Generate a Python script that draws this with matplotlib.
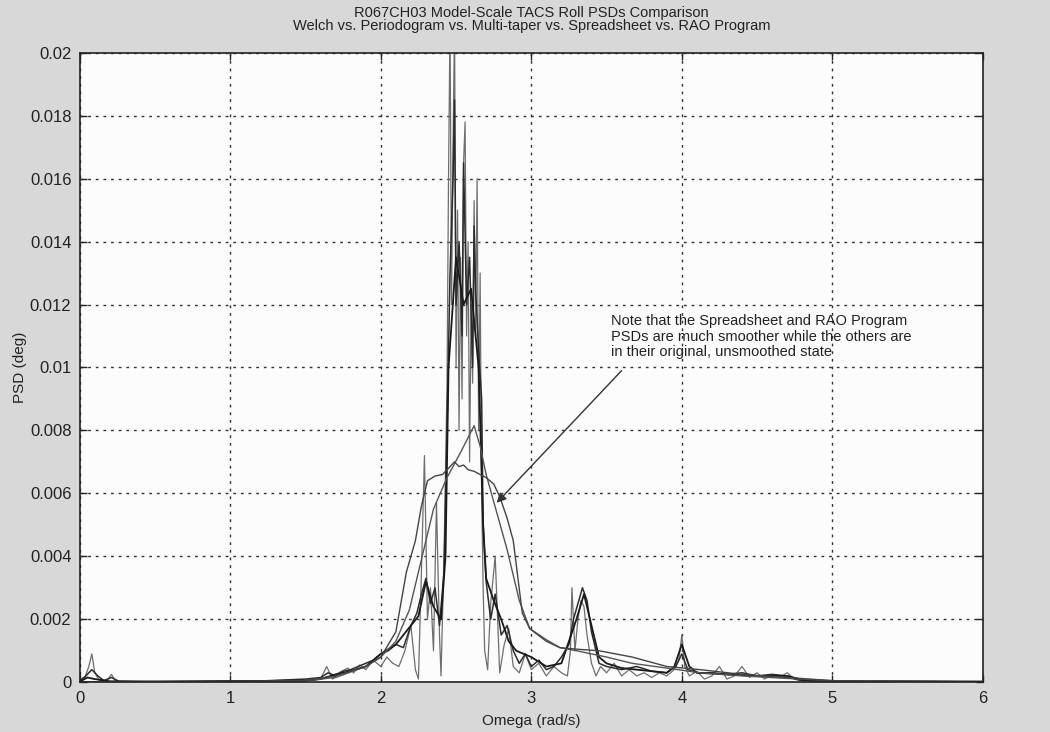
import matplotlib
matplotlib.use('Agg')
import matplotlib.pyplot as plt
import numpy as np
from matplotlib.ticker import FormatStrFormatter, MultipleLocator

plt.rcParams['font.family'] = ['Liberation Sans', 'DejaVu Sans']

# --- PSD estimates, omega in rad/s, PSD in units of 1e-3 deg ---
welch_w = [0, 0.05, 0.1, 0.2, 0.5, 1.0, 1.5, 1.6, 1.7, 1.8,
           1.9, 2.0, 2.1, 2.2, 2.25, 2.3, 2.35, 2.4, 2.43, 2.45,
           2.5, 2.55, 2.6, 2.65, 2.68, 2.7, 2.75, 2.8, 2.85, 2.9,
           3.0, 3.1, 3.2, 3.3, 3.35, 3.4, 3.45, 3.5, 3.6, 3.7,
           3.8, 3.9, 3.95, 4.0, 4.05, 4.1, 4.3, 4.5, 4.7, 4.8,
           5.0, 6.0]
welch_psd = [0.02, 0.15, 0.1, 0.03, 0.02, 0.03, 0.05, 0.1, 0.25, 0.35,
             0.5, 0.9, 1.2, 1.8, 2.1, 3.2, 2.4, 2.0, 4.0, 10.0,
             13.5, 12.0, 12.5, 10.0, 5.0, 3.3, 2.6, 2.0, 1.3, 1.0,
             0.8, 0.5, 0.6, 2.0, 2.8, 1.8, 0.8, 0.6, 0.45, 0.4,
             0.35, 0.3, 0.5, 1.2, 0.5, 0.3, 0.25, 0.2, 0.2, 0.08,
             0.03, 0.02]

perio_w = [0, 0.03, 0.06, 0.08, 0.1, 0.13, 0.18, 0.21, 0.24, 0.3,
           0.6, 0.9, 1.2, 1.5, 1.6, 1.64, 1.68, 1.72, 1.78, 1.82,
           1.86, 1.9, 1.95, 2.0, 2.04, 2.08, 2.12, 2.16, 2.2, 2.23,
           2.25, 2.27, 2.29, 2.31, 2.33, 2.35, 2.37, 2.39, 2.40, 2.42,
           2.44, 2.45, 2.46, 2.47, 2.48, 2.49, 2.50, 2.51, 2.52, 2.53,
           2.54, 2.55, 2.56, 2.57, 2.58, 2.59, 2.60, 2.61, 2.62, 2.63,
           2.64, 2.65, 2.66, 2.67, 2.68, 2.69, 2.71, 2.73, 2.76, 2.79,
           2.82, 2.85, 2.88, 2.92, 2.96, 3.0, 3.05, 3.1, 3.15, 3.2,
           3.24, 3.26, 3.27, 3.29, 3.31, 3.33, 3.35, 3.37, 3.4, 3.43,
           3.46, 3.5, 3.55, 3.6, 3.65, 3.7, 3.75, 3.8, 3.85, 3.9,
           3.95, 3.98, 4.0, 4.02, 4.05, 4.1, 4.15, 4.2, 4.25, 4.3,
           4.35, 4.4, 4.45, 4.5, 4.55, 4.6, 4.65, 4.7, 4.75, 4.8,
           4.9, 5.0, 5.5, 6.0]
perio_psd = [0.0, 0.1, 0.5, 0.9, 0.3, 0.05, 0.05, 0.25, 0.02, 0.02,
             0.02, 0.03, 0.05, 0.05, 0.1, 0.5, 0.1, 0.3, 0.45, 0.3,
             0.55, 0.4, 0.7, 0.5, 0.8, 0.6, 0.5, 1.0, 1.8, 0.4,
             0.1, 3.5, 7.2, 2.0, 3.0, 1.0, 5.7, 1.5, 0.2, 4.0,
             9.5, 16.0, 21.0, 12.0, 17.0, 21.0, 10.0, 15.0, 8.0, 13.5,
             9.0, 16.5, 17.8, 11.0, 14.0, 7.0, 12.0, 9.5, 15.3, 11.0,
             16.0, 8.0, 13.0, 6.0, 3.0, 1.0, 0.4, 2.5, 4.0, 0.3,
             1.2, 1.7, 0.5, 0.3, 0.9, 0.4, 0.6, 0.2, 0.5, 0.3,
             0.2, 1.0, 3.0, 1.0, 2.0, 2.6, 2.4, 1.5, 0.6, 0.2,
             0.5, 0.3, 0.6, 0.2, 0.4, 0.2, 0.3, 0.15, 0.3, 0.2,
             0.4, 0.7, 1.5, 0.5, 0.2, 0.35, 0.1, 0.2, 0.5, 0.1,
             0.2, 0.5, 0.15, 0.3, 0.1, 0.25, 0.15, 0.3, 0.1, 0.05,
             0.03, 0.02, 0.01, 0.01]

mtaper_w = [0, 0.04, 0.08, 0.12, 0.16, 0.21, 0.26, 0.4, 0.8, 1.2,
            1.5, 1.6, 1.65, 1.7, 1.75, 1.8, 1.85, 1.9, 1.95, 2.0,
            2.05, 2.1, 2.15, 2.2, 2.24, 2.27, 2.3, 2.33, 2.36, 2.39,
            2.42, 2.44, 2.46, 2.48, 2.49, 2.5, 2.52, 2.54, 2.55, 2.57,
            2.59, 2.61, 2.62, 2.63, 2.65, 2.67, 2.68, 2.7, 2.73, 2.76,
            2.8, 2.84, 2.88, 2.92, 2.96, 3.0, 3.05, 3.1, 3.15, 3.2,
            3.25, 3.28, 3.31, 3.34, 3.37, 3.4, 3.45, 3.5, 3.6, 3.7,
            3.8, 3.9, 3.96, 4.0, 4.04, 4.1, 4.2, 4.3, 4.4, 4.5,
            4.6, 4.7, 4.75, 4.8, 5.0, 6.0]
mtaper_psd = [0.05, 0.2, 0.4, 0.2, 0.05, 0.15, 0.03, 0.02, 0.03, 0.04,
              0.1, 0.15, 0.3, 0.2, 0.35, 0.4, 0.5, 0.6, 0.7, 0.9,
              1.0, 1.2, 1.1, 1.8, 2.2, 2.8, 3.3, 2.5, 3.0, 1.8,
              3.5, 8.0, 13.0, 16.0, 18.5, 12.0, 14.0, 11.0, 16.5, 12.0,
              13.5, 10.0, 14.5, 12.5, 10.5, 9.0, 5.0, 3.2, 2.0, 2.8,
              1.5, 1.8, 1.0, 0.6, 0.9, 0.5, 0.7, 0.4, 0.5, 0.8,
              1.2, 2.0, 2.5, 3.0, 2.6, 1.6, 0.6, 0.5, 0.4, 0.5,
              0.35, 0.3, 0.5, 0.9, 0.4, 0.3, 0.3, 0.25, 0.3, 0.2,
              0.25, 0.2, 0.1, 0.05, 0.03, 0.02]

sheet_w = [0, 0.5, 1.0, 1.5, 1.7, 1.9, 2.0, 2.1, 2.19, 2.25,
           2.35, 2.44, 2.53, 2.62, 2.66, 2.70, 2.77, 2.84, 2.92, 2.99,
           3.1, 3.19, 3.3, 3.5, 3.67, 3.9, 4.12, 4.4, 4.7, 5.0,
           6.0]
sheet_psd = [0.0, 0.01, 0.02, 0.05, 0.15, 0.5, 0.8, 1.3, 2.3, 3.5,
             5.5, 6.5, 7.3, 8.15, 7.5, 6.6, 5.4, 4.2, 2.6, 1.7,
             1.35, 1.1, 1.0, 0.8, 0.6, 0.45, 0.3, 0.2, 0.12, 0.05,
             0.01]

rao_w = [0, 0.5, 1.0, 1.5, 1.7, 1.9, 2.0, 2.1, 2.17, 2.23,
         2.27, 2.31, 2.36, 2.41, 2.44, 2.47, 2.49, 2.52, 2.55, 2.58,
         2.62, 2.66, 2.70, 2.75, 2.79, 2.84, 2.88, 2.94, 2.99, 3.1,
         3.19, 3.3, 3.45, 3.67, 3.9, 4.12, 4.4, 4.7, 5.0, 6.0]
rao_psd = [0.0, 0.01, 0.02, 0.05, 0.2, 0.5, 0.8, 1.6, 3.5, 4.5,
           5.6, 6.4, 6.55, 6.6, 6.75, 6.9, 7.0, 6.85, 6.9, 6.75,
           6.7, 6.6, 6.5, 6.3, 5.9, 5.2, 4.5, 2.2, 1.7, 1.3,
           1.1, 1.05, 1.0, 0.8, 0.5, 0.4, 0.25, 0.15, 0.05, 0.01]

x_ticks = [0, 1, 2, 3, 4, 5, 6]

fig = plt.figure(figsize=(10.5, 7.32), dpi=100, facecolor='#d8d8d8')
ax = fig.add_axes([0.076, 0.068, 0.86, 0.86], facecolor='#fcfcfc')

ax.plot(perio_w, np.array(perio_psd) * 1e-3, color='#6e6e6e', lw=0.9)
ax.plot(mtaper_w, np.array(mtaper_psd) * 1e-3, color='#2c2c2c', lw=1.1)
ax.plot(welch_w, np.array(welch_psd) * 1e-3, color='#1a1a1a', lw=1.3)
ax.plot(sheet_w, np.array(sheet_psd) * 1e-3, color='#555555', lw=1.0)
ax.plot(rao_w, np.array(rao_psd) * 1e-3, color='#444444', lw=1.0)

ax.set_xlim(0, 6)
ax.set_ylim(0, 0.02)
ax.set_xticks(x_ticks)
ax.yaxis.set_major_locator(MultipleLocator(0.002))
ax.yaxis.set_major_formatter(FormatStrFormatter('%g'))
ax.tick_params(direction='in', length=5, width=1, top=True, right=True,
               labelsize=12, colors='#222222', pad=6)
ax.grid(True, color='#333333', linestyle=(0, (2, 3.5)), linewidth=1.0)
for sp in ax.spines.values():
    sp.set_linewidth(1.2)
    sp.set_color('#222222')

ax.set_title('R067CH03 Model-Scale TACS Roll PSDs Comparison\n'
             'Welch vs. Periodogram vs. Multi-taper vs. Spreadsheet vs. RAO Program',
             fontsize=10.5, linespacing=0.95, pad=16, color='#222222')
ax.set_xlabel('Omega (rad/s)', fontsize=11, color='#222222', labelpad=6)
ax.set_ylabel('PSD (deg)', fontsize=11, color='#222222', labelpad=2)

# note pointing at the smoothed curves
ax.text(3.53, 0.0117,
        'Note that the Spreadsheet and RAO Program\n'
        'PSDs are much smoother while the others are\n'
        'in their original, unsmoothed state',
        fontsize=10.5, va='top', ha='left', linespacing=1.15, color='#222222')
ax.annotate('', xy=(2.77, 0.0057), xytext=(3.6, 0.0099),
            arrowprops=dict(arrowstyle='-|>', color='#333333', lw=1.0,
                            mutation_scale=14, shrinkA=0, shrinkB=0))

fig.savefig('out.png', dpi=100, facecolor=fig.get_facecolor())
